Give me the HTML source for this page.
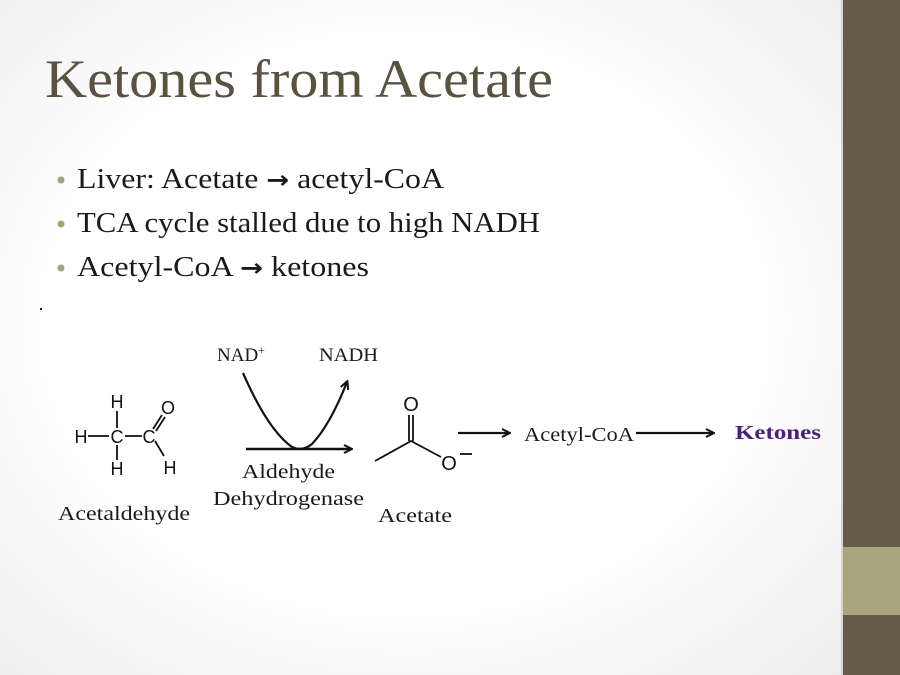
<!DOCTYPE html>
<html><head><meta charset="utf-8"><style>
html,body{margin:0;padding:0;width:900px;height:675px;overflow:hidden}
body{background:radial-gradient(ellipse 70% 75% at 45% 48%, #ffffff 55%, #ececec 100%)}
svg{position:absolute;left:0;top:0}
.s{font-family:"Liberation Serif",serif;fill:#1a1a1a}
.a{font-family:"Liberation Sans",sans-serif;fill:#111;font-size:18px}
.ar{font-family:"DejaVu Sans",sans-serif;font-weight:bold}
</style></head><body>
<svg width="900" height="675" viewBox="0 0 900 675">
<defs><marker id="ah" markerWidth="10" markerHeight="10" refX="8" refY="5" orient="auto" markerUnits="userSpaceOnUse"><path d="M1,1 L9,5 L1,9" fill="none" stroke="#111" stroke-width="2"/></marker></defs>
<rect x="843" y="0" width="57" height="675" fill="#675c48"/>
<rect x="843" y="547" width="57" height="68" fill="#a8a47c"/>
<rect x="841" y="0" width="2" height="675" fill="#d8d4c8"/>
<text x="45" y="97" class="s" font-size="54" style="fill:#5a5240" textLength="508" lengthAdjust="spacingAndGlyphs">Ketones from Acetate</text>
<circle cx="61" cy="180" r="3.5" fill="#a3a27a"/>
<circle cx="61" cy="224" r="3.5" fill="#a3a27a"/>
<circle cx="61" cy="268" r="3.5" fill="#a3a27a"/>
<text x="77" y="188" class="s" font-size="28" textLength="367" lengthAdjust="spacingAndGlyphs">Liver: Acetate <tspan class="ar" font-size="24">→</tspan> acetyl-CoA</text>
<text x="77" y="232" class="s" font-size="28" textLength="463" lengthAdjust="spacingAndGlyphs">TCA cycle stalled due to high NADH</text>
<text x="77" y="276" class="s" font-size="28" textLength="292" lengthAdjust="spacingAndGlyphs">Acetyl-CoA <tspan class="ar" font-size="24">→</tspan> ketones</text>
<rect x="40" y="308" width="2" height="2" fill="#222"/>
<g class="a">
<text x="117" y="408" text-anchor="middle">H</text>
<text x="117" y="443" text-anchor="middle">C</text>
<text x="81" y="443" text-anchor="middle">H</text>
<text x="149" y="443" text-anchor="middle">C</text>
<text x="168" y="414" text-anchor="middle">O</text>
<text x="117" y="475" text-anchor="middle">H</text>
<text x="170" y="474" text-anchor="middle">H</text>
</g>
<g stroke="#111" stroke-width="1.8" fill="none">
<line x1="117" y1="411" x2="117" y2="428"/>
<line x1="117" y1="445" x2="117" y2="460"/>
<line x1="88" y1="436" x2="109" y2="436"/>
<line x1="125" y1="436" x2="142" y2="436"/>
<line x1="153" y1="429" x2="162" y2="415"/>
<line x1="156" y1="431" x2="165" y2="417"/>
<line x1="155" y1="441" x2="164" y2="456"/>
</g>
<text x="58" y="520" class="s" font-size="20" textLength="132" lengthAdjust="spacingAndGlyphs">Acetaldehyde</text>
<text x="217" y="361" class="s" font-size="19">NAD<tspan font-size="12" dy="-7">+</tspan></text>
<text x="319" y="361" class="s" font-size="19" textLength="59" lengthAdjust="spacingAndGlyphs">NADH</text>
<path d="M243,373 Q268,430 292,447 Q302,452 312,444 Q330,425 347,382" fill="none" stroke="#111" stroke-width="2.2" marker-end="url(#ah)"/>
<line x1="246" y1="449" x2="351" y2="449" stroke="#111" stroke-width="2.4" marker-end="url(#ah)"/>
<text x="242" y="478" class="s" font-size="20" textLength="93" lengthAdjust="spacingAndGlyphs">Aldehyde</text>
<text x="213" y="505" class="s" font-size="20" textLength="151" lengthAdjust="spacingAndGlyphs">Dehydrogenase</text>
<g stroke="#111" stroke-width="1.8" fill="none">
<polyline points="375,461 411,441 441,457"/>
<line x1="409" y1="441" x2="409" y2="415"/>
<line x1="413" y1="441" x2="413" y2="415"/>
</g>
<g class="a" style="font-size:20px">
<text x="411" y="411" text-anchor="middle">O</text>
<text x="449" y="470" text-anchor="middle">O</text>
</g>
<line x1="460" y1="454" x2="472" y2="454" stroke="#111" stroke-width="1.8"/>
<text x="378" y="522" class="s" font-size="20" textLength="74" lengthAdjust="spacingAndGlyphs">Acetate</text>
<line x1="458" y1="433" x2="509" y2="433" stroke="#111" stroke-width="2.2" marker-end="url(#ah)"/>
<text x="524" y="441" class="s" font-size="20" textLength="110" lengthAdjust="spacingAndGlyphs">Acetyl-CoA</text>
<line x1="636" y1="433" x2="713" y2="433" stroke="#111" stroke-width="2.2" marker-end="url(#ah)"/>
<text x="735" y="439" class="s" font-size="20" font-weight="bold" style="fill:#4b1e7a" textLength="86" lengthAdjust="spacingAndGlyphs">Ketones</text>
</svg>
</body></html>
